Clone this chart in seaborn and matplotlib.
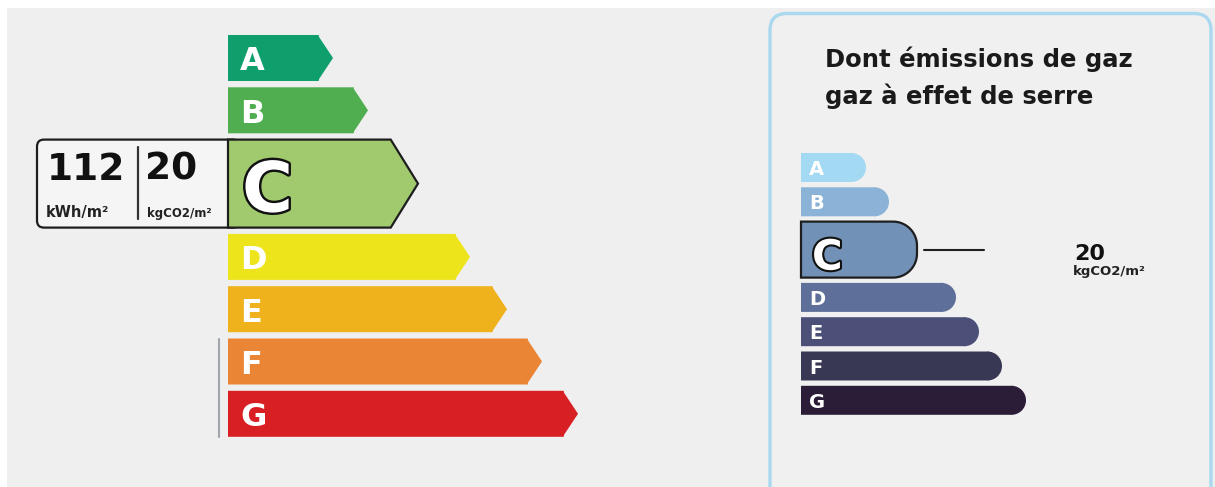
import numpy as np
import pandas as pd
import matplotlib
matplotlib.use("Agg")
import matplotlib.pyplot as plt
import seaborn as sns
from matplotlib.patches import Polygon, Rectangle, FancyBboxPatch, Wedge
import matplotlib.patheffects as pe

# ---------------- data ----------------
classes = ["A", "B", "C", "D", "E", "F", "G"]
energy_lengths = [105, 140, 190, 242, 279, 314, 350]   # bar lengths incl. arrow tip
ges_lengths = [66, 89, 116, 156, 179, 202, 226]          # bar lengths incl. rounded end
energy_colors = ["#0f9f6c", "#51ae50", "#a1ca6e", "#eee41c", "#efb11c", "#ea8535", "#d81f23"]
ges_colors = ["#a4d9f4", "#8bb3d7", "#7191b6", "#5e6f99", "#4c5078", "#393854", "#2b1c38"]
highlight = "C"
energy_value = "112"
energy_unit = "kWh/m²"
ges_value = "20"
ges_unit = "kgCO2/m²"
title_lines = ["Dont émissions de gaz", "gaz à effet de serre"]

# ---------------- setup ----------------
sns.set_theme(style="white")
plt.rcParams["font.family"] = ["DejaVu Sans"]
W, H = 1215, 487
fig = plt.figure(figsize=(W / 100, H / 100), dpi=100, facecolor="white")

ax_bg = fig.add_axes([0, 0, 1, 1])
ax_bg.set_xlim(0, W); ax_bg.set_ylim(H, 0); ax_bg.axis("off")
ax_bg.add_patch(Rectangle((7, 8), W, H, facecolor="#efefef", edgecolor="none"))
ax_bg.add_patch(FancyBboxPatch((770, 13.5), 441, 520, boxstyle="round,pad=0,rounding_size=17",
                               facecolor="#f0f0f0", edgecolor="#a9d8ef", linewidth=2.4))

LX0, RX0 = 228, 801
ax_l = fig.add_axes([0, 0, 1, 1], facecolor="none")
ax_r = fig.add_axes([0, 0, 1, 1], facecolor="none")


def row_layout(top0, h, hh, gap):
    tops, heights = [], []
    t = top0
    for c in classes:
        hgt = hh if c == highlight else h
        tops.append(t); heights.append(hgt)
        t += hgt + gap
    return np.array(tops), np.array(heights)


# ---------------- left: energy label ----------------
ltops, lh = row_layout(35, 46, 88, 6.3)
lcent = ltops + lh / 2
ltip = 0.31 * lh
lbody = np.array(energy_lengths) - ltip
reg = [i for i, c in enumerate(classes) if c != highlight]
df_l = pd.DataFrame({"cls": [classes[i] for i in reg], "body": lbody[reg], "center": lcent[reg]})
wl = 46 / np.min(np.diff(np.sort(df_l["center"].values)))
sns.barplot(data=df_l, x="body", y="center", hue="cls", orient="y", native_scale=True,
            palette=dict(zip(classes, energy_colors)), dodge=False, width=wl, saturation=1,
            errorbar=None, legend=False, linewidth=0, ax=ax_l)
for p in ax_l.patches:
    p.set_snap(False)
for i in reg:
    ax_l.add_patch(Polygon([(lbody[i] - 1, ltops[i]), (energy_lengths[i], lcent[i]),
                            (lbody[i] - 1, ltops[i] + lh[i])], closed=True,
                           facecolor=energy_colors[i], edgecolor="none", zorder=3))
    ax_l.text(12, lcent[i] + 12.5, classes[i], color="white", fontsize=23, fontweight="bold",
              ha="left", va="baseline", zorder=5)

hi = classes.index(highlight)
t, b = ltops[hi], ltops[hi] + lh[hi]
# value box
ax_l.add_patch(FancyBboxPatch((37 - LX0, t), LX0 - 37 + 12, lh[hi],
                              boxstyle="round,pad=0,rounding_size=7",
                              facecolor="#f5f5f5", edgecolor="#1e1e1e", linewidth=1.6, zorder=2))
ax_l.add_patch(Polygon([(0, t), (lbody[hi], t), (energy_lengths[hi], lcent[hi]), (lbody[hi], b), (0, b)],
                       closed=True, facecolor=energy_colors[hi], edgecolor="#1e1e1e",
                       linewidth=1.6, joinstyle="miter", zorder=4))
ax_l.text(14, b - 16, highlight, color="white", fontsize=50, fontweight="bold", ha="left",
          va="baseline", zorder=6,
          path_effects=[pe.withStroke(linewidth=3.5, foreground="#111111")])
ax_l.plot([138 - LX0, 138 - LX0], [t + 7, b - 9], color="#333333", linewidth=1.6, zorder=5)
ax_l.text(47 - LX0, t + 40, energy_value, fontsize=27, fontweight="bold", color="#111111",
          ha="left", va="baseline", zorder=5)
ax_l.text(145 - LX0, t + 40, ges_value, fontsize=27, fontweight="bold", color="#111111",
          ha="left", va="baseline", zorder=5)
ax_l.text(46 - LX0, b - 11, energy_unit, fontsize=10.5, fontweight="bold", color="#222222",
          ha="left", va="baseline", zorder=5)
ax_l.text(147 - LX0, b - 11, ges_unit, fontsize=8.5, fontweight="bold", color="#222222",
          ha="left", va="baseline", zorder=5)
# scale marker next to F-G
ax_l.plot([-9, -9], [ltops[5], ltops[6] + lh[6]], color="#a0a6ad", linewidth=1.5, zorder=2)

ax_l.set_xlim(-LX0, W - LX0); ax_l.set_ylim(H, 0); ax_l.axis("off")

# ---------------- right: GES label ----------------
rtops, rh = row_layout(153, 29, 56, 5.3)
rcent = rtops + rh / 2
rr = rh / 2
rbody = np.array(ges_lengths) - rr
df_r = pd.DataFrame({"cls": [classes[i] for i in reg], "body": rbody[reg], "center": rcent[reg]})
wr = 29 / np.min(np.diff(np.sort(df_r["center"].values)))
sns.barplot(data=df_r, x="body", y="center", hue="cls", orient="y", native_scale=True,
            palette=dict(zip(classes, ges_colors)), dodge=False, width=wr, saturation=1,
            errorbar=None, legend=False, linewidth=0, ax=ax_r)
for p in ax_r.patches:
    p.set_snap(False)
for i in reg:
    ax_r.add_patch(Wedge((rbody[i] - 1, rcent[i]), rr[i], -90, 90, facecolor=ges_colors[i],
                         edgecolor="none", zorder=3))
    ax_r.text(8, rcent[i] + 7.5, classes[i], color="white", fontsize=14, fontweight="bold",
              ha="left", va="baseline", zorder=5)

t, b = rtops[hi], rtops[hi] + rh[hi]
x1 = ges_lengths[hi]
rc = 24
a1 = np.linspace(np.pi / 2, 0, 20)
a2 = np.linspace(0, -np.pi / 2, 20)
pts = [(0, t)]
pts += list(zip(x1 - rc + rc * np.cos(a1), t + rc - rc * np.sin(a1)))
pts += list(zip(x1 - rc + rc * np.cos(a2), b - rc - rc * np.sin(a2)))
pts += [(0, b)]
ax_r.add_patch(Polygon(pts, closed=True, facecolor=ges_colors[hi], edgecolor="#1e1e1e",
                       linewidth=1.6, zorder=4))
ax_r.text(11, b - 8, highlight, color="white", fontsize=30, fontweight="bold", ha="left",
          va="baseline", zorder=6,
          path_effects=[pe.withStroke(linewidth=3.0, foreground="#111111")])
ax_r.plot([x1 + 7, x1 + 67], [rcent[hi], rcent[hi]], color="#1e1e1e", linewidth=1.5, zorder=4)
ax_r.text(1074 - RX0, rcent[hi] + 10, ges_value, fontsize=16, fontweight="bold", color="#111111",
          ha="left", va="baseline", zorder=5)
ax_r.text(1073 - RX0, rcent[hi] + 25, ges_unit, fontsize=9.5, fontweight="bold", color="#222222",
          ha="left", va="baseline", zorder=5)
ax_r.set_xlim(-RX0, W - RX0); ax_r.set_ylim(H, 0); ax_r.axis("off")

# title
ax_bg.text(825, 67, title_lines[0], fontsize=17.5, fontweight="bold", color="#1a1a1a",
           ha="left", va="baseline")
ax_bg.text(825, 104, title_lines[1], fontsize=17.5, fontweight="bold", color="#1a1a1a",
           ha="left", va="baseline")

fig.savefig("out.png", dpi=100, facecolor="white")
